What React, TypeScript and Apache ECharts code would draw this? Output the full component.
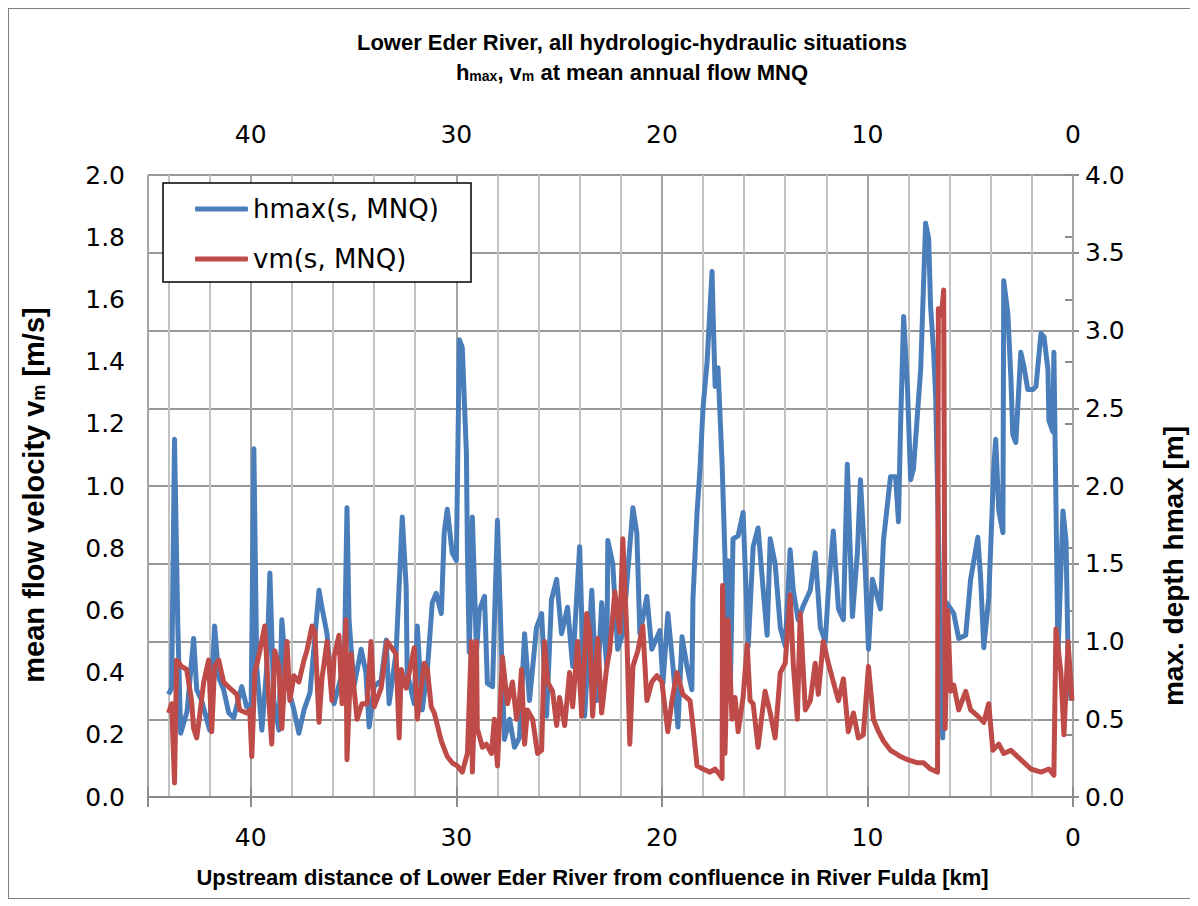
import React, { useEffect, useRef } from "react";
import * as echarts from "echarts";

// distance [km] -> max. depth hmax [m]
const hmaxData: [number, number][] = [
  [44.0, 0.66], [43.85, 0.7], [43.71, 2.3], [43.55, 1.1], [43.41, 0.41], [43.1, 0.55], [42.78, 1.02], [42.63, 0.69],
  [42.39, 0.62], [42.0, 0.43], [41.76, 1.1], [41.56, 0.77], [41.32, 0.69], [41.07, 0.54], [40.83, 0.51], [40.44, 0.71],
  [40.2, 0.58], [39.98, 0.6], [39.85, 2.24], [39.71, 0.84], [39.46, 0.43], [39.22, 0.84], [39.07, 1.44], [38.88, 0.62],
  [38.63, 0.43], [38.49, 1.14], [38.24, 0.73], [37.9, 0.56], [37.66, 0.41], [37.41, 0.56], [37.12, 0.67], [36.68, 1.33],
  [36.54, 1.22], [36.29, 1.05], [36.05, 0.67], [35.95, 0.6], [35.45, 0.85], [35.32, 1.86], [35.22, 1.14], [34.98, 0.71],
  [34.63, 0.95], [34.4, 0.8], [34.24, 0.45], [34.0, 0.71], [33.66, 0.75], [33.41, 1.01], [33.27, 0.6], [32.93, 0.93],
  [32.63, 1.8], [32.44, 1.35], [32.39, 0.8], [32.05, 0.6], [31.9, 1.1], [31.66, 0.56], [31.41, 0.82], [31.17, 1.25],
  [30.98, 1.31], [30.73, 1.18], [30.59, 1.7], [30.44, 1.85], [30.2, 1.57], [30.0, 1.52], [29.85, 2.94], [29.71, 2.89],
  [29.51, 2.21], [29.46, 1.57], [29.37, 0.93], [29.22, 1.8], [29.02, 0.93], [28.88, 1.2], [28.63, 1.29], [28.49, 0.73],
  [28.24, 0.71], [28.0, 1.78], [27.8, 0.93], [27.66, 0.37], [27.41, 0.5], [27.17, 0.32], [26.93, 0.38], [26.68, 1.05],
  [26.44, 0.62], [26.1, 1.09], [25.85, 1.18], [25.61, 0.52], [25.37, 1.27], [25.12, 1.4], [24.88, 1.05], [24.59, 1.22],
  [24.34, 0.84], [24.0, 1.61], [23.76, 0.52], [23.41, 1.33], [23.17, 0.62], [22.93, 1.25], [22.68, 0.84], [22.63, 1.65],
  [22.39, 1.5], [22.15, 0.95], [21.9, 1.05], [21.41, 1.86], [21.22, 1.7], [21.07, 1.05], [20.73, 1.29], [20.49, 0.95],
  [20.1, 1.07], [19.95, 0.73], [19.71, 1.18], [19.46, 0.84], [19.22, 0.45], [19.02, 1.03], [18.78, 0.84], [18.54, 0.69],
  [18.49, 1.27], [18.29, 1.83], [18.15, 2.1], [18.0, 2.5], [17.8, 2.8], [17.76, 2.9], [17.56, 3.38], [17.51, 3.11],
  [17.41, 2.64], [17.27, 2.76], [17.07, 2.14], [16.93, 1.54], [16.83, 1.09], [16.78, 1.52], [16.68, 0.62], [16.54, 1.66],
  [16.29, 1.68], [16.05, 1.83], [15.8, 0.97], [15.56, 1.61], [15.32, 1.73], [15.07, 1.33], [14.88, 1.04], [14.73, 1.66],
  [14.49, 1.5], [14.24, 1.09], [14.0, 0.97], [13.76, 1.59], [13.61, 1.33], [13.37, 1.14], [13.12, 1.23], [12.78, 1.33],
  [12.54, 1.57], [12.29, 1.09], [12.05, 1.0], [11.9, 1.33], [11.66, 1.71], [11.41, 1.21], [11.17, 1.14], [10.98, 2.14],
  [10.73, 1.16], [10.49, 1.57], [10.34, 2.04], [10.1, 1.45], [9.95, 0.95], [9.76, 1.4], [9.61, 1.33], [9.37, 1.21],
  [9.22, 1.65], [9.02, 1.89], [8.88, 2.06], [8.63, 2.06], [8.49, 1.77], [8.39, 2.38], [8.24, 3.09], [8.05, 2.62],
  [7.9, 2.04], [7.76, 2.11], [7.41, 2.75], [7.17, 3.69], [7.02, 3.59], [6.93, 3.16], [6.78, 2.86], [6.68, 2.57],
  [6.34, 0.38], [6.15, 1.25], [5.95, 1.21], [5.8, 1.18], [5.56, 1.02], [5.22, 1.04], [4.98, 1.4], [4.63, 1.67],
  [4.49, 1.4], [4.34, 0.96], [4.1, 1.28], [3.85, 2.13], [3.76, 2.3], [3.61, 1.84], [3.41, 1.7], [3.37, 3.32],
  [3.17, 3.11], [3.02, 2.69], [2.93, 2.33], [2.78, 2.28], [2.54, 2.86], [2.39, 2.77], [2.2, 2.62], [1.95, 2.62],
  [1.8, 2.64], [1.56, 2.98], [1.41, 2.96], [1.22, 2.75], [1.17, 2.42], [0.98, 2.35], [0.93, 2.86], [0.83, 1.89],
  [0.73, 0.91], [0.49, 1.84], [0.34, 1.65], [0.24, 0.91], [0.1, 0.62],
];

// distance [km] -> mean flow velocity vm [m/s]
const vmData: [number, number][] = [
  [44.0, 0.27], [43.85, 0.3], [43.71, 0.045], [43.61, 0.44], [43.37, 0.42], [43.12, 0.41], [42.88, 0.31], [42.78, 0.22],
  [42.63, 0.19], [42.49, 0.26], [42.29, 0.37], [42.05, 0.44], [41.9, 0.21], [41.76, 0.42], [41.56, 0.44], [41.32, 0.37],
  [41.02, 0.35], [40.68, 0.33], [40.54, 0.28], [40.2, 0.27], [40.05, 0.28], [39.95, 0.13], [39.8, 0.4], [39.56, 0.47],
  [39.32, 0.55], [39.12, 0.31], [38.98, 0.17], [38.83, 0.47], [38.63, 0.42], [38.49, 0.22], [38.24, 0.5], [38.1, 0.31],
  [37.9, 0.39], [37.66, 0.37], [37.41, 0.44], [37.27, 0.47], [37.02, 0.55], [36.88, 0.53], [36.68, 0.24], [36.54, 0.38],
  [36.29, 0.5], [36.05, 0.31], [35.95, 0.45], [35.71, 0.52], [35.56, 0.3], [35.37, 0.57], [35.32, 0.12], [35.12, 0.46],
  [34.98, 0.35], [34.83, 0.25], [34.59, 0.3], [34.34, 0.3], [34.15, 0.5], [34.0, 0.29], [33.66, 0.35], [33.37, 0.5],
  [32.93, 0.46], [32.78, 0.19], [32.68, 0.41], [32.44, 0.35], [32.05, 0.48], [31.9, 0.25], [31.71, 0.35], [31.56, 0.43],
  [31.41, 0.41], [31.22, 0.29], [31.07, 0.27], [30.73, 0.18], [30.44, 0.13], [30.2, 0.11], [29.95, 0.1], [29.71, 0.08],
  [29.46, 0.14], [29.27, 0.5], [29.22, 0.08], [29.02, 0.5], [28.98, 0.22], [28.73, 0.16], [28.54, 0.17], [28.29, 0.14],
  [28.15, 0.25], [28.0, 0.1], [27.76, 0.45], [27.51, 0.3], [27.27, 0.37], [27.07, 0.25], [26.93, 0.31], [26.83, 0.41],
  [26.68, 0.17], [26.54, 0.28], [26.29, 0.25], [26.05, 0.14], [25.85, 0.15], [25.71, 0.5], [25.56, 0.37], [25.32, 0.34],
  [25.12, 0.23], [24.98, 0.32], [24.73, 0.23], [24.49, 0.4], [24.34, 0.29], [24.1, 0.5], [23.9, 0.26], [23.66, 0.59],
  [23.51, 0.53], [23.37, 0.26], [23.12, 0.51], [22.93, 0.27], [22.68, 0.42], [22.54, 0.47], [22.29, 0.66], [22.05, 0.53],
  [21.9, 0.83], [21.71, 0.53], [21.56, 0.17], [21.41, 0.42], [21.17, 0.47], [20.93, 0.55], [20.73, 0.31], [20.49, 0.37],
  [20.24, 0.39], [20.0, 0.37], [19.71, 0.21], [19.51, 0.31], [19.27, 0.4], [18.98, 0.33], [18.63, 0.31], [18.49, 0.23],
  [18.29, 0.1], [18.0, 0.09], [17.66, 0.08], [17.41, 0.09], [17.17, 0.07], [17.07, 0.06], [17.05, 0.68], [16.93, 0.14],
  [16.78, 0.57], [16.59, 0.25], [16.44, 0.32], [16.29, 0.21], [16.05, 0.32], [15.85, 0.49], [15.71, 0.31], [15.56, 0.3],
  [15.32, 0.16], [15.12, 0.27], [14.98, 0.34], [14.73, 0.27], [14.49, 0.19], [14.24, 0.4], [14.0, 0.43], [13.76, 0.65],
  [13.61, 0.43], [13.41, 0.25], [13.27, 0.59], [13.02, 0.28], [12.78, 0.31], [12.54, 0.43], [12.39, 0.33], [12.15, 0.5],
  [11.9, 0.43], [11.66, 0.37], [11.41, 0.31], [11.17, 0.38], [10.93, 0.21], [10.68, 0.27], [10.44, 0.19], [10.2, 0.2],
  [9.95, 0.42], [9.71, 0.25], [9.46, 0.21], [9.22, 0.18], [8.88, 0.15], [8.63, 0.14], [8.39, 0.13], [8.05, 0.12],
  [7.56, 0.11], [7.27, 0.11], [6.93, 0.09], [6.59, 0.08], [6.55, 1.57], [6.4, 1.55], [6.29, 1.63], [6.22, 0.22],
  [6.1, 0.6], [5.95, 0.34], [5.8, 0.36], [5.56, 0.28], [5.22, 0.34], [4.98, 0.28], [4.63, 0.26], [4.34, 0.24],
  [4.1, 0.3], [3.9, 0.15], [3.61, 0.17], [3.37, 0.14], [3.02, 0.15], [2.54, 0.12], [2.05, 0.09], [1.56, 0.08],
  [1.17, 0.09], [0.93, 0.07], [0.83, 0.54], [0.59, 0.4], [0.44, 0.2], [0.24, 0.5], [0.05, 0.31],
];

const seriesNames = ["hmax(s, MNQ)", "vm(s, MNQ)"];
const titleLine1 = "Lower Eder River, all hydrologic-hydraulic situations";
const titleLine2 = "h{sub|max}, v{sub|m} at mean annual flow MNQ";
const xAxisTitle = "Upstream distance of Lower Eder River from confluence in River Fulda [km]";
const leftAxisTitle = "mean flow velocity v{sub|m} [m/s]";
const rightAxisTitle = "max. depth hmax [m]";

const BLUE = "#4a7ebb";
const RED = "#be4b48";
const TICK_FONT = "DejaVu Sans";
const TITLE_FONT = "Liberation Sans";

const tickLabel = (margin: number, fmt?: (v: number) => string) => ({
  fontFamily: TICK_FONT,
  fontSize: 25,
  color: "#000",
  margin,
  formatter: fmt,
});

export default function App() {
  const ref = useRef<HTMLDivElement>(null);
  useEffect(() => {
    const chart = echarts.init(ref.current!, null, { renderer: "svg" });
    const axisLine = { show: true, lineStyle: { color: "#8c8c8c", width: 2 } };
    const xFmt = (v: number) => (v === 45 ? "" : String(v));
    chart.setOption({
      animation: false,
      backgroundColor: "#ffffff",
      graphic: [
        {
          type: "text",
          x: 623,
          y: 33,
          style: {
            text: titleLine1,
            fontFamily: TITLE_FONT,
            fontWeight: "bold",
            fontSize: 22,
            fill: "#000",
            align: "center",
            verticalAlign: "middle",
          },
        },
        {
          type: "text",
          x: 623,
          y: 63,
          style: {
            text: titleLine2,
            fontFamily: TITLE_FONT,
            fontWeight: "bold",
            fontSize: 22,
            fill: "#000",
            align: "center",
            verticalAlign: "middle",
            rich: {
              sub: { fontFamily: TITLE_FONT, fontWeight: "bold", fontSize: 14, verticalAlign: "bottom", fill: "#000" },
            },
          },
        },
        {
          type: "rect",
          z: 3,
          shape: { x: 154, y: 174, width: 308, height: 99 },
          style: { fill: "#ffffff", stroke: "#000000", lineWidth: 1.5 },
        },
      ],
      legend: {
        data: seriesNames,
        orient: "vertical",
        left: 186,
        top: 185,
        padding: 0,
        itemWidth: 53,
        itemHeight: 5,
        itemGap: 20,
        icon: "roundRect",
        z: 5,
        textStyle: { fontFamily: TICK_FONT, fontSize: 26, color: "#000", lineHeight: 30 },
      },
      grid: { left: 139, top: 166, width: 925, height: 622, containLabel: false, outerBoundsMode: "none" },
      xAxis: [
        {
          type: "value",
          min: 0,
          max: 45,
          interval: 10,
          inverse: true,
          position: "bottom",
          z: 1,
          axisLine,
          axisTick: { show: true, length: 10, lineStyle: { color: "#8c8c8c", width: 2 } },
          axisLabel: tickLabel(28, xFmt),
          splitLine: { show: true, lineStyle: { color: "#a3a3a3", width: 2 } },
          name: xAxisTitle,
          nameLocation: "middle",
          nameGap: 69,
          nameTextStyle: {
            fontFamily: TITLE_FONT,
            fontWeight: "bold",
            fontSize: 22,
            color: "#000",
            padding: [0, 36, 0, 0],
          },
        },
        {
          type: "value",
          min: 0,
          max: 45,
          interval: 10,
          inverse: true,
          position: "top",
          z: 1,
          axisLine,
          axisTick: { show: true, length: 10, lineStyle: { color: "#8c8c8c", width: 2 } },
          axisLabel: tickLabel(28, xFmt),
          splitLine: { show: false },
        },
        {
          type: "value",
          min: 0,
          max: 45,
          interval: 2,
          inverse: true,
          position: "bottom",
          z: 0,
          axisLine: { show: false },
          axisTick: { show: false },
          axisLabel: { show: false },
          splitLine: { show: true, lineStyle: { color: "#c2c2c2", width: 2 } },
        },
      ],
      yAxis: [
        {
          type: "value",
          min: 0,
          max: 2,
          interval: 0.2,
          position: "left",
          axisLine,
          axisTick: { show: true, length: 8, lineStyle: { color: "#8c8c8c", width: 2 } },
          axisLabel: tickLabel(23, (v: number) => v.toFixed(1)),
          splitLine: { show: false },
          name: leftAxisTitle,
          nameLocation: "middle",
          nameRotate: 90,
          nameGap: 100,
          nameTextStyle: {
            fontFamily: TITLE_FONT,
            fontWeight: "bold",
            fontSize: 29,
            color: "#000",
            padding: [0, 18, 0, 0],
            rich: {
              sub: { fontFamily: TITLE_FONT, fontWeight: "bold", fontSize: 18, verticalAlign: "bottom", color: "#000" },
            },
          },
        },
        {
          type: "value",
          min: 0,
          max: 4,
          interval: 0.5,
          position: "right",
          axisLine,
          axisTick: { show: true, length: 6, lineStyle: { color: "#8c8c8c", width: 2 } },
          axisLabel: tickLabel(12, (v: number) => v.toFixed(1)),
          splitLine: { show: true, lineStyle: { color: "#979797", width: 2 } },
          name: rightAxisTitle,
          nameLocation: "middle",
          nameRotate: 90,
          nameGap: 86,
          nameTextStyle: {
            fontFamily: TITLE_FONT,
            fontWeight: "bold",
            fontSize: 28,
            color: "#000",
            padding: [0, 160, 0, 0],
          },
        },
      ],
      series: [
        {
          name: seriesNames[0],
          type: "line",
          xAxisIndex: 0,
          yAxisIndex: 1,
          data: hmaxData,
          showSymbol: false,
          symbol: "none",
          color: BLUE,
          lineStyle: { color: BLUE, width: 5, join: "round" },
        },
        {
          name: seriesNames[1],
          type: "line",
          xAxisIndex: 0,
          yAxisIndex: 0,
          data: vmData,
          showSymbol: false,
          symbol: "none",
          color: RED,
          lineStyle: { color: RED, width: 5, join: "round" },
        },
      ],
    });
    return () => chart.dispose();
  }, []);
  return (
    <div
      ref={ref}
      style={{ width: 1181, height: 889, border: "1px solid #808080", background: "#fff" }}
    />
  );
}
